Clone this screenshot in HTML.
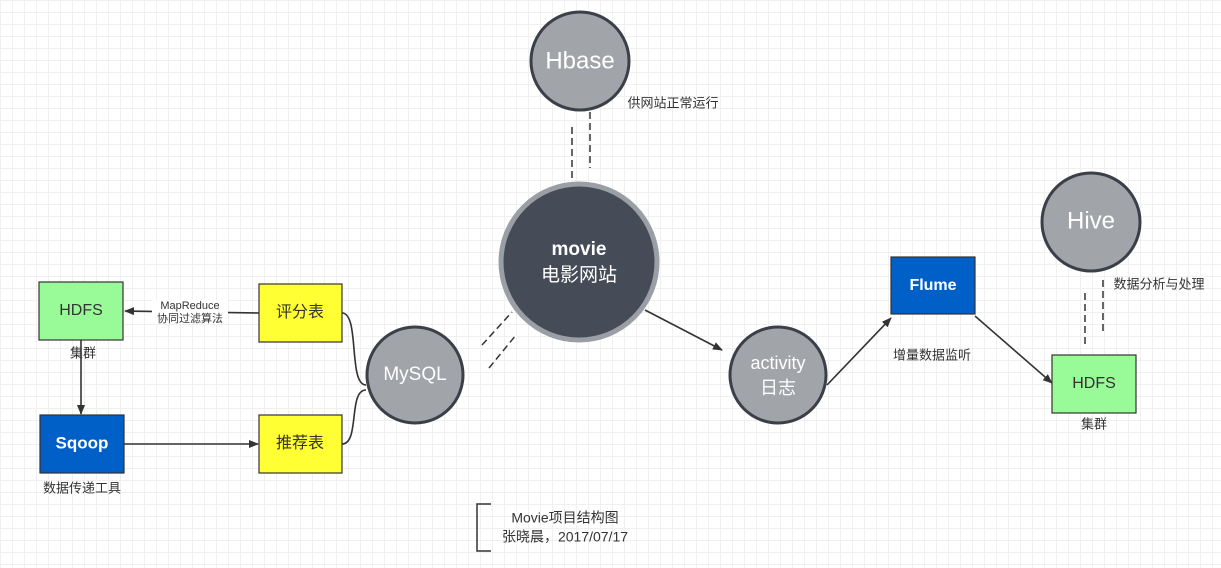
<!DOCTYPE html>
<html><head><meta charset="utf-8"><style>
body{margin:0;width:1221px;height:568px;overflow:hidden;background:#fff;
background-image:linear-gradient(#f0f0f0 1px,transparent 1px),linear-gradient(90deg,#f0f0f0 1px,transparent 1px);background-size:12px 12px;}
svg{position:absolute;left:0;top:0}
text{font-family:"Liberation Sans","Noto Sans CJK SC",sans-serif}
</style></head><body>
<svg width="1221" height="568" viewBox="0 0 1221 568">
<defs><marker id="a" markerWidth="10" markerHeight="8" refX="9" refY="4" orient="auto" markerUnits="userSpaceOnUse"><path d="M0,0 L10,4 L0,8 z" fill="#333"/></marker></defs>
<g stroke="#333" stroke-width="1.5" stroke-dasharray="7,4" fill="none">
<line x1="572" y1="127" x2="572" y2="183"/><line x1="590" y1="112" x2="590" y2="168"/>
<line x1="482" y1="345" x2="512" y2="312"/><line x1="489" y1="368" x2="516" y2="335"/>
<line x1="1085" y1="293" x2="1085" y2="345"/><line x1="1103" y1="280" x2="1103" y2="332"/>
</g>
<g stroke="#333" stroke-width="1.6" fill="none">
<line x1="645" y1="310" x2="722" y2="350" marker-end="url(#a)"/>
<line x1="827" y1="385" x2="891" y2="318" marker-end="url(#a)"/>
<line x1="975" y1="316" x2="1052" y2="383" marker-end="url(#a)"/>
<line x1="81" y1="340" x2="81" y2="414" marker-end="url(#a)"/>
<line x1="124" y1="444" x2="258" y2="444" marker-end="url(#a)"/>
<line x1="259" y1="313" x2="125" y2="311" marker-end="url(#a)"/>
<path d="M342,313 C360,313 348,385 366,385"/>
<path d="M342,444 C360,444 348,390 366,390"/>
</g>
<rect x="152" y="300" width="76" height="24" fill="#fff"/>
<g stroke="#3a3f48" stroke-width="3">
<circle cx="580" cy="61" r="49" fill="#a1a4a9"/>
<circle cx="415" cy="375" r="48" fill="#a1a4a9"/>
<circle cx="778" cy="375" r="48" fill="#a1a4a9"/>
<circle cx="1091" cy="222" r="49" fill="#a1a4a9"/>
</g>
<circle cx="579" cy="262" r="78" fill="#454c57" stroke="#9a9ea5" stroke-width="5"/>
<g stroke="#333" stroke-width="1.2">
<rect x="39" y="282" width="84" height="58" fill="#98fb98"/>
<rect x="40" y="415" width="84" height="58" fill="#0060c8"/>
<rect x="259" y="284" width="83" height="58" fill="#ffff33"/>
<rect x="259" y="415" width="83" height="58" fill="#ffff33"/>
<rect x="891" y="257" width="84" height="57" fill="#0060c8"/>
<rect x="1052" y="355" width="84" height="58" fill="#98fb98"/>
</g>
<path d="M491,504 L477,504 L477,551 L491,551" stroke="#333" stroke-width="1.5" fill="none"/>
<g text-anchor="middle" dominant-baseline="middle">
<text x="580" y="62" font-size="24" fill="#fff">Hbase</text>
<text x="579" y="250" font-size="19" fill="#fff" font-weight="bold">movie</text>
<text x="579" y="276" font-size="19" fill="#fff">电影网站</text>
<text x="415" y="375" font-size="19" fill="#fff">MySQL</text>
<text x="778" y="364" font-size="18" fill="#fff">activity</text>
<text x="778" y="389" font-size="18" fill="#fff">日志</text>
<text x="1091" y="222" font-size="24" fill="#fff">Hive</text>
<text x="81" y="311" font-size="16" fill="#333">HDFS</text>
<text x="82" y="444" font-size="17" fill="#fff" font-weight="bold">Sqoop</text>
<text x="300" y="313" font-size="16" fill="#333">评分表</text>
<text x="300" y="444" font-size="16" fill="#333">推荐表</text>
<text x="933" y="286" font-size="16" fill="#fff" font-weight="bold">Flume</text>
<text x="1094" y="384" font-size="16" fill="#333">HDFS</text>
<text x="83" y="354" font-size="13" fill="#333">集群</text>
<text x="82" y="489" font-size="13" fill="#333">数据传递工具</text>
<text x="190" y="306" font-size="11" fill="#333">MapReduce</text>
<text x="190" y="319" font-size="11" fill="#333">协同过滤算法</text>
<text x="673" y="104" font-size="13" fill="#333">供网站正常运行</text>
<text x="1159" y="285" font-size="13" fill="#333">数据分析与处理</text>
<text x="932" y="356" font-size="13" fill="#333">增量数据监听</text>
<text x="1094" y="425" font-size="13" fill="#333">集群</text>
<text x="565" y="519" font-size="14" fill="#333">Movie项目结构图</text>
<text x="565" y="538" font-size="14" fill="#333">张晓晨，2017/07/17</text>
</g>
</svg>
</body></html>
